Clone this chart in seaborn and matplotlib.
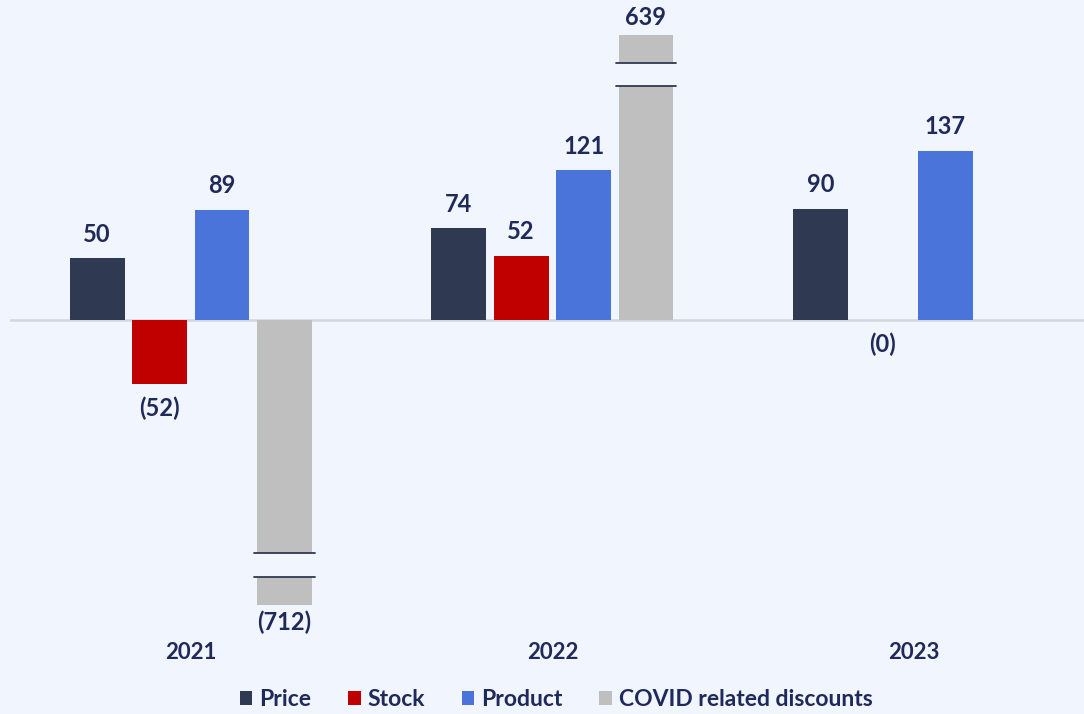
import numpy as np
import pandas as pd
import matplotlib.pyplot as plt
import seaborn as sns
from matplotlib.patches import Rectangle

years = ["2021", "2022", "2023"]
drivers = ["Price", "Stock", "Product", "COVID related discounts"]
price = [50, 74, 90]
stock = [-52, 52, -0.2]
product = [89, 121, 137]
covid = [-712, 639, np.nan]

colors = ["#2f3a52", "#c00000", "#4a74d9", "#bfbfbf"]
bg = "#f1f5fd"
navy = "#1f2a5a"

# bars taller than this get an axis break
cap = 231
gap = (189, 208)

rows = []
for name, vals in zip(drivers, [price, stock, product, covid]):
    for yr, v in zip(years, vals):
        if not np.isnan(v):
            rows.append({"year": yr, "driver": name, "value": v,
                         "shown": float(np.clip(v, -cap, cap))})
df = pd.DataFrame(rows)

sns.set_style("white")
plt.rcParams["font.family"] = ["Lato", "DejaVu Sans"]

fig = plt.figure(figsize=(10.84, 7.14), dpi=100, facecolor=bg)
ax = fig.add_axes([10 / 1084, 94 / 714, 1 - 10 / 1084, 620 / 714])
ax.set_facecolor(bg)

sns.barplot(data=df, x="year", y="shown", hue="driver", order=years,
            hue_order=drivers, palette=colors, width=0.69, gap=0.12,
            saturation=1, linewidth=0, ax=ax, legend=True)

ax.axhline(0, color="#d3d6de", lw=1.8, zorder=0)

for cont, name in zip(ax.containers, drivers):
    sub = df[df.driver == name].set_index("year").reindex(years).dropna()
    labels = ["(%d)" % round(abs(v)) if v < 0 else "%d" % round(v) for v in sub.value]
    pad = 4 if name.startswith("COVID") else 9
    ax.bar_label(cont, labels=labels, padding=pad, fontsize=17, fontweight="bold", color=navy)
    for bar, v in zip(cont, sub.value):
        if abs(v) > cap:
            sgn = np.sign(v)
            ext = bar.get_width() * 0.05
            x0 = bar.get_x() - ext
            w = bar.get_width() + 2 * ext
            ax.add_patch(Rectangle((x0, sgn * gap[0]), w, sgn * (gap[1] - gap[0]),
                                   facecolor=bg, edgecolor="none", zorder=3))
            for g in gap:
                ax.plot([x0, x0 + w], [sgn * g, sgn * g], color="#2f3a52", lw=1.3, zorder=4)

ax.set_xlim(-0.5, 2.47)
ax.set_ylim(-243, 259)
ax.set_xlabel("")
ax.set_ylabel("")
ax.set_yticks([])
ax.tick_params(axis="x", length=0, pad=16, labelsize=16, labelcolor=navy)
for t in ax.get_xticklabels():
    t.set_fontweight("bold")
sns.despine(ax=ax, left=True, bottom=True)

handles, labs = ax.get_legend_handles_labels()
ax.legend(handles, labs, loc="center", bbox_to_anchor=(0.513, 0.02),
          bbox_transform=fig.transFigure, ncol=4, frameon=False,
          handlelength=0.55, handleheight=0.55, handletextpad=0.3,
          columnspacing=1.6, prop={"size": 16.5, "weight": "bold"}, labelcolor=navy)

fig.savefig("out.png", dpi=100, facecolor=bg)
